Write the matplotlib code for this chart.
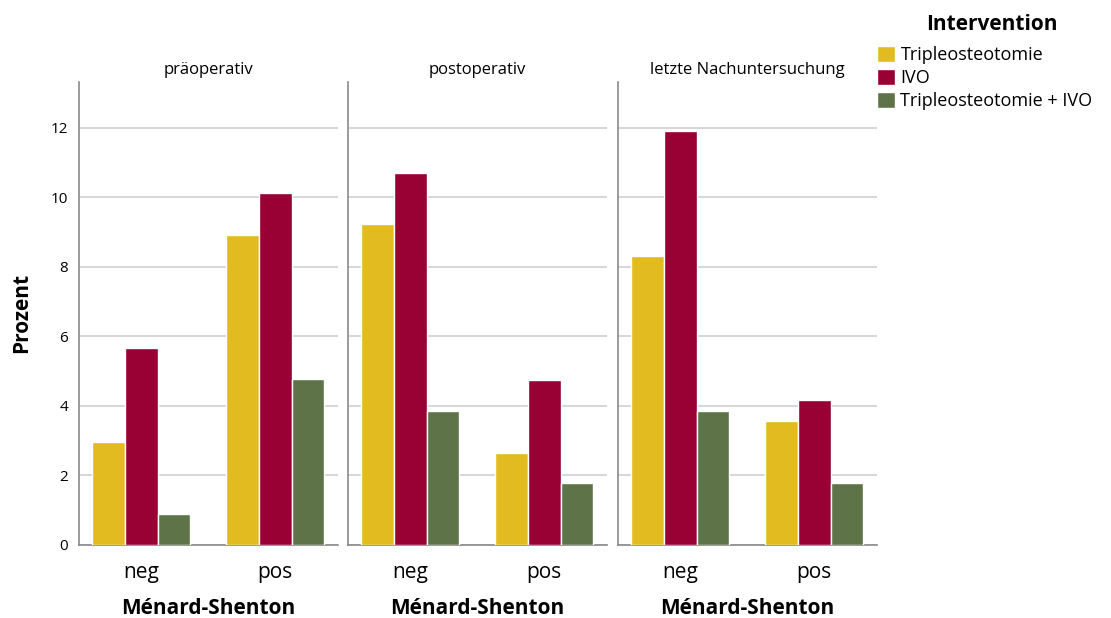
import matplotlib
matplotlib.use("Agg")
import matplotlib.pyplot as plt
import numpy as np
from matplotlib.patches import Patch

PANELS = ["präoperativ", "postoperativ", "letzte Nachuntersuchung"]
CATEGORIES = ["neg", "pos"]
SERIES = ["Tripleosteotomie", "IVO", "Tripleosteotomie + IVO"]
COLORS = ["#E1BB20", "#990033", "#5E7448"]

# values per panel: rows = series, cols = categories
triple = [[2.97, 8.92], [9.24, 2.65], [8.32, 3.57]]
ivo = [[5.67, 10.13], [10.70, 4.75], [11.91, 4.17]]
triple_ivo = [[0.88, 4.77], [3.86, 1.78], [3.86, 1.78]]
VALUES = [triple, ivo, triple_ivo]

plt.rcParams["font.family"] = ["Open Sans", "DejaVu Sans"]

fig = plt.figure(figsize=(11.11, 6.18), dpi=100)
lefts = [79, 348, 618]
W, H = 1111, 618
x = np.arange(len(CATEGORIES))
bw = 0.246
for p, title in enumerate(PANELS):
    ax = fig.add_axes([lefts[p] / W, (H - 545) / H, 259 / W, (545 - 82) / H])
    for s in range(len(SERIES)):
        vals = [VALUES[s][p][c] for c in range(len(CATEGORIES))]
        ax.bar(x + (s - 1) * bw, vals, width=bw, color=COLORS[s],
               edgecolor="white", linewidth=1.0, zorder=3)
    ax.set_xlim(-0.463, 1.47)
    ax.set_ylim(0, 13.32)
    ax.set_yticks(range(0, 13, 2))
    ax.grid(axis="y", color="#d0d0d0", lw=1.2, zorder=0)
    ax.set_axisbelow(True)
    for side in ("top", "right"):
        ax.spines[side].set_visible(False)
    for side in ("left", "bottom"):
        ax.spines[side].set_color("#8a8a8a")
        ax.spines[side].set_linewidth(1.2)
    ax.tick_params(axis="both", length=0)
    ax.tick_params(axis="y", labelsize=11, pad=8)
    if p > 0:
        ax.tick_params(axis="y", labelleft=False)
    ax.set_xticks(x)
    ax.set_xticklabels(CATEGORIES, fontsize=15)
    ax.tick_params(axis="x", pad=12)
    ax.set_title(title, fontsize=12, pad=6)
    ax.set_xlabel("Ménard-Shenton", fontsize=15, fontweight="bold", labelpad=11)

fig.text(22 / W, 1 - 313 / H, "Prozent", rotation=90, ha="center", va="center",
         fontsize=15, fontweight="bold")
fig.text(992 / W, 1 - 24 / H, "Intervention", ha="center", va="center",
         fontsize=15, fontweight="bold")

handles = [Patch(facecolor=c, edgecolor="white") for c in COLORS]
leg = fig.legend(handles, SERIES, loc="upper left", bbox_to_anchor=(877 / W, 1 - 46 / H),
                 frameon=False, fontsize=13, borderpad=0,
                 handlelength=1.0, handleheight=1.0, handletextpad=0.3,
                 labelspacing=0.25, borderaxespad=0)
fig.savefig("out.png", dpi=100)
